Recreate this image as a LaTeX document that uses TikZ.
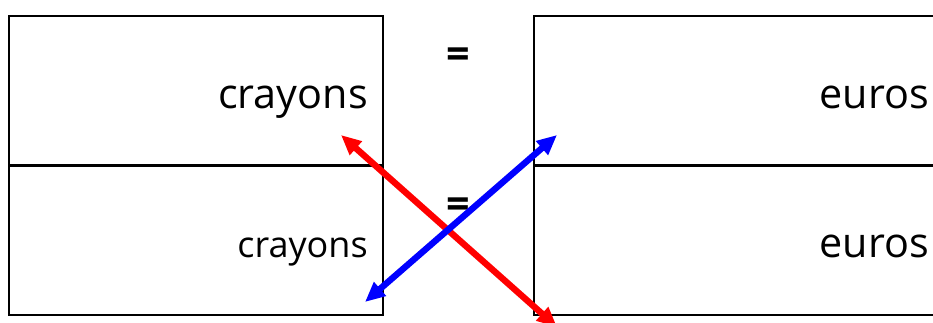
\documentclass[tikz,border=0pt]{standalone}
\usepackage{fontspec}
\setmainfont{Open Sans}
\usetikzlibrary{arrows.meta}

\begin{document}
\begin{tikzpicture}[x=0.75pt,y=-0.75pt,
  box/.style={draw,line width=1.5pt,inner sep=0pt,outer sep=0pt,minimum height=111.75pt},
  lbl/.style={inner sep=0pt,anchor=base east,font=\fontsize{31}{36}\selectfont},
  eq/.style={inner sep=0pt,font=\fontsize{31}{36}\selectfont\bfseries},
  ar/.style={{Triangle[length=15pt,width=13pt]}-{Triangle[length=15pt,width=13pt]},line width=4.8pt}]
\useasboundingbox (0,0) rectangle (933,322);
\clip (0,0) rectangle (933,322);
% boxes
\node[box,minimum width=280.5pt]  (lt) at (196,90.5)  {};
\node[box,minimum width=280.5pt]  (lb) at (196,240)   {};
\node[box,minimum width=308.25pt] (rt) at (739.5,90.5) {};
\node[box,minimum width=308.25pt] (rb) at (739.5,240)  {};
% texts
\node[lbl] (c1) at (368,108) {crayons};
\node[lbl,font=\fontsize{27}{32}\selectfont] (c2) at (368,257) {crayons};
\node[lbl] (e1) at (929,108) {euros};
\node[lbl] (e2) at (929,257) {euros};
\node[eq] (q1) at (458,58.5) {=};
\node[eq] (q2) at (458,208)  {=};
% arrows
\coordinate (r1) at (341,135);
\coordinate (r2) at (557,327);
\coordinate (b1) at (365,302);
\coordinate (b2) at (557,135);
\draw[ar,red]  (r1) -- (r2);
\draw[ar,blue] (b1) -- (b2);
\end{tikzpicture}
\end{document}
